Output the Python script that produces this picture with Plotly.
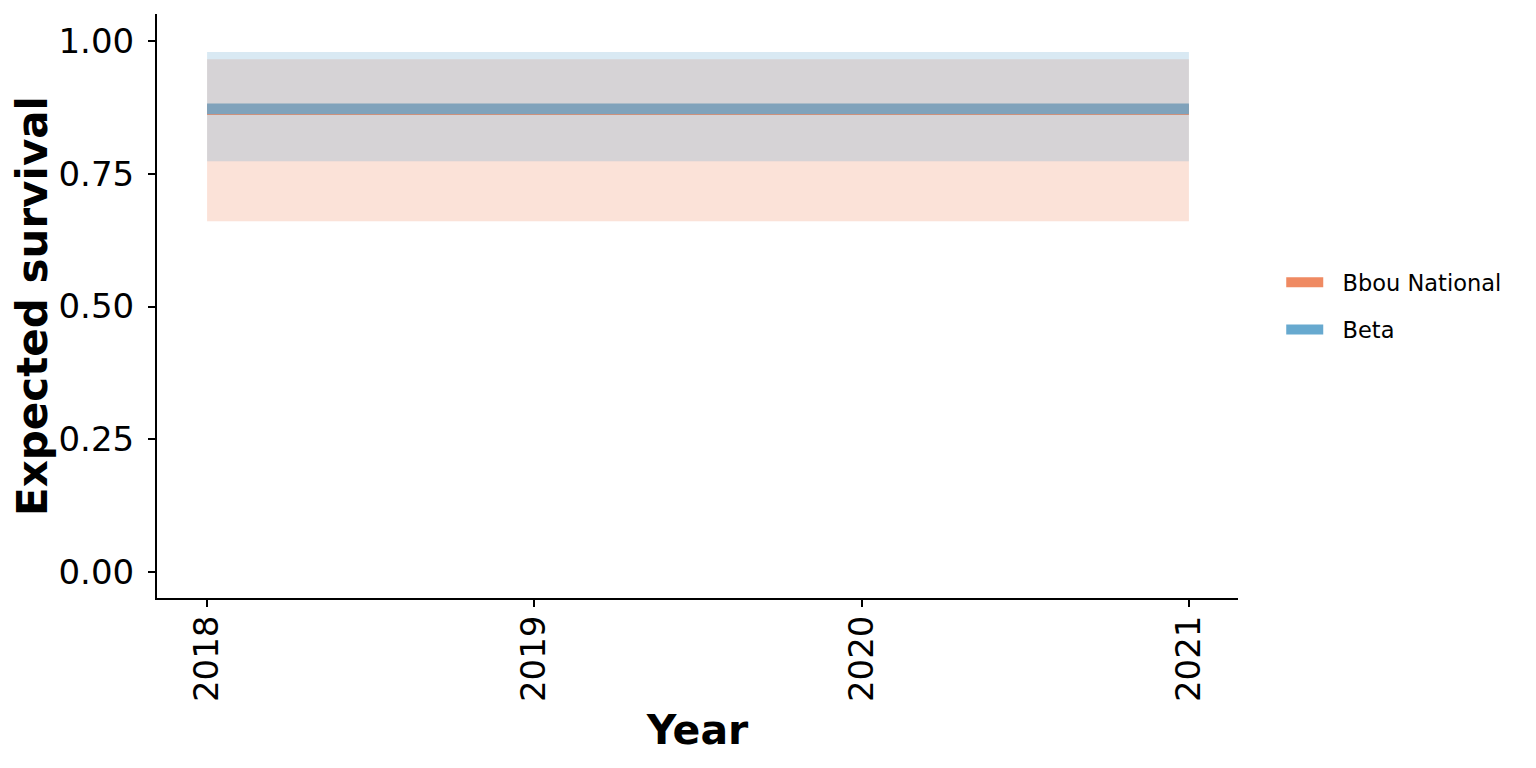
import plotly.graph_objects as go

years = [2018, 2019, 2020, 2021]
series_names = ["Bbou National", "Beta"]
bbou_mean = [0.871, 0.871, 0.871, 0.871]
bbou_lower = [0.661, 0.661, 0.661, 0.661]
bbou_upper = [0.966, 0.966, 0.966, 0.966]
beta_mean = [0.873, 0.873, 0.873, 0.873]
beta_lower = [0.774, 0.774, 0.774, 0.774]
beta_upper = [0.980, 0.980, 0.980, 0.980]
y_ticks = [0.0, 0.25, 0.5, 0.75, 1.0]
y_tick_labels = ["0.00", "0.25", "0.50", "0.75", "1.00"]

line_colors = ["#EF8A62", "#67A9CF"]
fill_colors = ["rgba(239,138,98,0.25)", "rgba(103,169,207,0.25)"]

means = [bbou_mean, beta_mean]
lowers = [bbou_lower, beta_lower]
uppers = [bbou_upper, beta_upper]

FONT = "DejaVu Sans"
PAD = "\u00a0\u00a0"
fig = go.Figure()

# lines first (ribbons drawn on top)
for i, name in enumerate(series_names):
    fig.add_trace(go.Scatter(
        x=years, y=means[i], mode="lines", name=PAD + name,
        line=dict(color=line_colors[i], width=10.5),
        legendgroup=name, showlegend=True,
    ))

for i, name in enumerate(series_names):
    fig.add_trace(go.Scatter(
        x=years + years[::-1], y=uppers[i] + lowers[i][::-1],
        mode="lines", fill="toself", fillcolor=fill_colors[i],
        line=dict(width=0, color="rgba(0,0,0,0)"),
        hoverinfo="skip", showlegend=False, legendgroup=name,
    ))

fig.update_layout(
    width=1536, height=768,
    paper_bgcolor="white", plot_bgcolor="white",
    margin=dict(l=149, r=306, t=6, b=178, autoexpand=False),
    font=dict(family=FONT, color="black"),
    legend=dict(
        x=1.04, xanchor="left", y=0.5, yanchor="middle",
        font=dict(size=22.5, family=FONT, color="black"),
        tracegroupgap=15, bgcolor="rgba(0,0,0,0)",
        itemwidth=37,
    ),
)

fig.update_xaxes(
    range=[2017.847, 2021.15], tickmode="array", tickvals=years,
    ticktext=[str(y) for y in years], tickangle=-90,
    tickfont=dict(size=34, family=FONT, color="black"),
    ticks="outside", ticklen=7, tickwidth=2, tickcolor="black",
    ticklabelstandoff=-5,
    showline=True, linecolor="black", linewidth=2,
    showgrid=False, zeroline=False,
    title=dict(text="<b>Year</b>", font=dict(size=41, family=FONT, color="black"), standoff=14),
)
fig.update_yaxes(
    range=[-0.0495, 1.0515], tickmode="array", tickvals=y_ticks,
    ticktext=y_tick_labels,
    tickfont=dict(size=34, family=FONT, color="black"),
    ticks="outside", ticklen=7, tickwidth=2, tickcolor="black",
    ticklabelstandoff=7,
    showline=True, linecolor="black", linewidth=2,
    showgrid=False, zeroline=False,
    title=dict(text="<b>Expected survival</b>", font=dict(size=42, family=FONT, color="black"), standoff=10),
)

fig.write_html("out.html")
